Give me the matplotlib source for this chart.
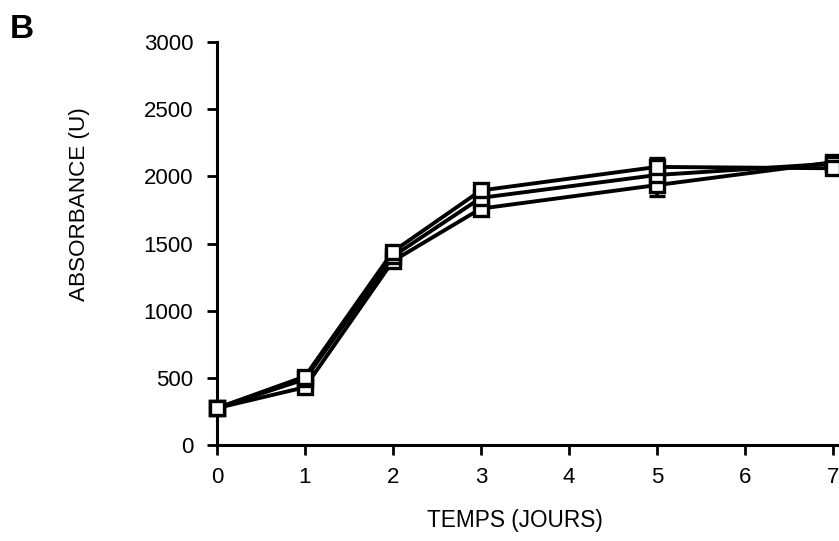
import numpy as np
import matplotlib.pyplot as plt

plt.rcParams['font.family'] = ['Liberation Sans', 'DejaVu Sans']

# days and absorbance values
jours = [0, 1, 2, 3, 5, 7]
serie1 = [275, 510, 1440, 1895, 2070, 2060]
serie2 = [275, 490, 1405, 1840, 2010, 2095]
serie3 = [275, 430, 1370, 1760, 1935, 2105]
err1 = [10, 15, 20, 25, 70, 20]
err2 = [10, 15, 20, 25, 40, 20]
err3 = [10, 15, 20, 25, 80, 20]

fig = plt.figure(figsize=(8.39, 5.41), dpi=100)
ax = fig.add_axes([0.2586, 0.1774, 0.7414, 0.745])

for y, e in [(serie3, err3), (serie2, err2), (serie1, err1)]:
    ax.errorbar(jours, y, yerr=e, color='black', lw=2.8, marker='s', ms=10,
                mfc='white', mec='black', mew=2.4, capsize=6, capthick=2.8,
                elinewidth=2.8, clip_on=False, zorder=3)

ax.set_xlim(0, 7.07)
ax.set_ylim(0, 3000)
ax.set_xticks(range(0, 8))
ax.set_yticks(range(0, 3001, 500))
ax.tick_params(direction='out', length=7, width=2, labelsize=16)
ax.tick_params(axis='x', pad=9)
ax.tick_params(axis='y', pad=10)
for s in ['top', 'right']:
    ax.spines[s].set_visible(False)
for s in ['left', 'bottom']:
    ax.spines[s].set_linewidth(2.2)

# axis titles placed where they sit in the original
fig.text(0.614, 0.037, 'TEMPS (JOURS)', fontsize=16.3, ha='center', va='center')
fig.text(0.095, 0.623, 'ABSORBANCE (U)', fontsize=16.2, rotation=90,
         ha='center', va='center')
fig.text(0.012, 0.93, 'B', fontsize=24, fontweight='bold')

fig.savefig('out.png', dpi=100)
